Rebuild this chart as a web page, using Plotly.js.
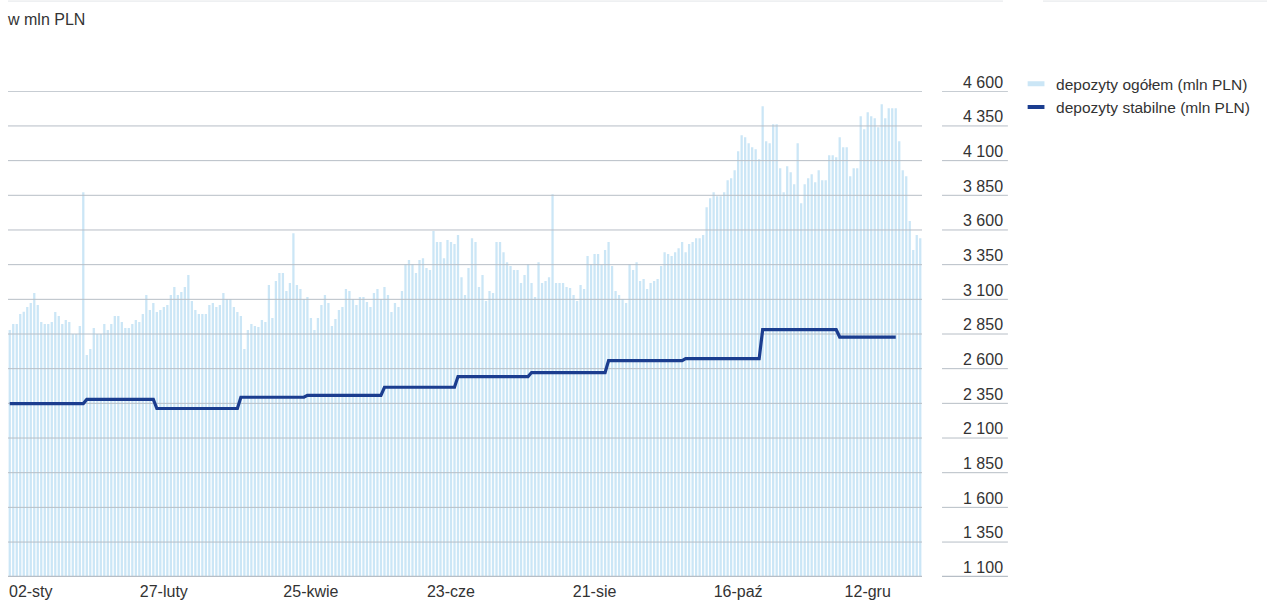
<!DOCTYPE html>
<html>
<head>
<meta charset="utf-8">
<script src="https://cdn.plot.ly/plotly-3.0.1.min.js"></script>
<style>
html,body{margin:0;padding:0;background:#fff;}
#chart{width:1267px;height:603px;}
</style>
</head>
<body>
<div id="chart"></div>
<script>
// depozyty ogółem (mln PLN) – daily values
const totalDeposits = [
2879,2922,2922,2994,3011,3044,3073,3145,3059,2936,
2922,2922,2936,3008,2980,2922,2951,2936,2850,2850,
2908,3872,2699,2742,2893,2850,2850,2922,2879,2922,
2980,2980,2936,2893,2893,2922,2951,2936,2994,3131,
3023,3073,3008,3023,3044,3059,3131,3188,3131,3152,
3188,3275,3088,3023,2994,2994,2994,3059,3073,3044,
3059,3145,3102,3102,3044,3008,2980,2742,2879,2922,
2908,2901,2951,2936,3203,2965,3232,3289,3289,3160,
3217,3577,3203,3174,3102,3116,2965,2879,2965,3059,
3131,3073,2908,2958,3023,3044,3174,3160,3102,3059,
3116,3116,3080,3044,3145,3174,3102,3188,3131,3008,
3073,3044,3160,3354,3383,3354,3289,3383,3397,3325,
3311,3592,3513,3513,3397,3527,3513,3498,3563,3260,
3131,3325,3541,3513,3188,3275,3088,3160,3145,3513,
3513,3440,3368,3340,3311,3311,3217,3275,3354,3217,
3116,3368,3217,3232,3260,3858,3217,3217,3217,3188,
3181,3131,3088,3203,3174,3412,3354,3426,3426,3347,
3455,3513,3340,3160,3131,3102,3073,3354,3311,3368,
3232,3246,3174,3217,3232,3246,3340,3440,3426,3412,
3440,3469,3513,3440,3498,3513,3541,3541,3563,3764,
3829,3872,3844,3844,3872,3959,3973,4031,4168,4283,
4268,4225,4196,4182,4110,4492,4240,4225,4362,4362,
4045,3872,4060,4016,3930,4225,3793,3930,3973,4002,
3944,4031,3959,3959,4139,4139,4124,4268,4196,4196,
3988,4045,4045,4420,4326,4448,4420,4405,4340,4506,
4405,4477,4477,4477,4240,4031,3988,3664,3455,3563,
3541
];

// depozyty stabilne (mln PLN)
const stableDeposits = [
2348,2348,2348,2348,2348,2348,2348,2348,2348,2348,2348,2348,2348,2348,2348,2348,2348,2348,2348,2348,2348,2348,
2378,2378,2378,2378,2378,2378,2378,2378,2378,2378,2378,2378,2378,2378,2378,2378,2378,2378,2378,2378,
2313,2313,2313,2313,2313,2313,2313,2313,2313,2313,2313,2313,2313,2313,2313,2313,2313,2313,2313,2313,2313,2313,2313,2313,
2394,2394,2394,2394,2394,2394,2394,2394,2394,2394,2394,2394,2394,2394,2394,2394,2394,2394,2394,
2408,2408,2408,2408,2408,2408,2408,2408,2408,2408,2408,2408,2408,2408,2408,2408,2408,2408,2408,2408,2408,2408,
2466,2466,2466,2466,2466,2466,2466,2466,2466,2466,2466,2466,2466,2466,2466,2466,2466,2466,2466,2466,2466,
2543,2543,2543,2543,2543,2543,2543,2543,2543,2543,2543,2543,2543,2543,2543,2543,2543,2543,2543,2543,2543,
2572,2572,2572,2572,2572,2572,2572,2572,2572,2572,2572,2572,2572,2572,2572,2572,2572,2572,2572,2572,2572,2572,
2658,2658,2658,2658,2658,2658,2658,2658,2658,2658,2658,2658,2658,2658,2658,2658,2658,2658,2658,2658,2658,2658,
2672,2672,2672,2672,2672,2672,2672,2672,2672,2672,2672,2672,2672,2672,2672,2672,2672,2672,2672,2672,2672,2672,
2881,2881,2881,2881,2881,2881,2881,2881,2881,2881,2881,2881,2881,2881,2881,2881,2881,2881,2881,2881,2881,2881,
2828,2828,2828,2828,2828,2828,2828,2828,2828,2828,2828,2828,2828,2828,2828,2828,2828
];

const xTickVals = [6, 44, 86, 126, 167, 208, 245];
const xTickText = ['02-sty', '27-luty', '25-kwie', '23-cze', '21-sie', '16-paź', '12-gru'];

const yTickVals = [1100, 1350, 1600, 1850, 2100, 2350, 2600, 2850, 3100, 3350, 3600, 3850, 4100, 4350, 4600];
const yTickText = ['1 100', '1 350', '1 600', '1 850', '2 100', '2 350', '2 600', '2 850', '3 100', '3 350', '3 600', '3 850', '4 100', '4 350', '4 600'];

const seriesNames = ['depozyty ogółem (mln PLN)', 'depozyty stabilne (mln PLN)'];

const barColor = '#cbe6f6';
const lineColor = '#1b3d8f';
const gridColor = '#b7bec6';
const textColor = '#333333';
const fontFamily = '"Liberation Sans", Arial, sans-serif';

const xIdx = totalDeposits.map((_, i) => i);
const xIdxLine = stableDeposits.map((_, i) => i);
const xMin = -0.5, xMax = totalDeposits.length - 0.5;

// horizontal grid drawn as a trace so it sits above the bars but below the line
const gridX = [], gridY = [];
yTickVals.slice(1).forEach(v => { gridX.push(xMin, xMax, null); gridY.push(v, v, null); });

const traces = [
  {
    type: 'bar', x: xIdx, y: totalDeposits, marker: {color: barColor, line: {width: 0}},
    name: seriesNames[0], showlegend: false, hoverinfo: 'y'
  },
  {
    type: 'scatter', mode: 'lines', x: gridX, y: gridY, connectgaps: false,
    line: {color: gridColor, width: 1}, showlegend: false, hoverinfo: 'skip', name: 'grid'
  },
  {
    type: 'scatter', mode: 'lines', x: xIdxLine, y: stableDeposits,
    line: {color: lineColor, width: 3.2}, name: seriesNames[1], showlegend: false, hoverinfo: 'y'
  },
  {
    type: 'scatter', mode: 'markers', x: [null], y: [null], name: seriesNames[0],
    marker: {symbol: 'line-ew', size: 12, color: barColor, line: {color: barColor, width: 5}}
  },
  {
    type: 'scatter', mode: 'markers', x: [null], y: [null], name: seriesNames[1],
    marker: {symbol: 'line-ew', size: 12, color: lineColor, line: {color: lineColor, width: 4}}
  }
];

const shapes = [];
// base line of the plot (1 100)
shapes.push({type: 'line', xref: 'paper', yref: 'y', x0: 0, x1: 1, y0: yTickVals[0], y1: yTickVals[0],
  line: {color: gridColor, width: 2}, layer: 'above'});
// short rules under the value labels on the right
yTickVals.forEach((v, k) => {
  shapes.push({type: 'line', xref: 'paper', yref: 'y', x0: 1.0219, x1: 1.094, y0: v, y1: v,
    line: {color: gridColor, width: k === 0 ? 2 : 1}, layer: 'above'});
});
// thin rules along the top edge of the figure
shapes.push({type: 'line', xref: 'paper', yref: 'paper', x0: 0, x1: 1.0886, y0: 1.185, y1: 1.185,
  line: {color: '#e2e5e8', width: 1}});
shapes.push({type: 'line', xref: 'paper', yref: 'paper', x0: 1.1324, x1: 1.3775, y0: 1.185, y1: 1.185,
  line: {color: '#e2e5e8', width: 1}});

const layout = {
  width: 1267, height: 603,
  margin: {l: 8, r: 345, t: 91, b: 26, pad: 0},
  paper_bgcolor: '#ffffff', plot_bgcolor: '#ffffff',
  font: {family: fontFamily, size: 15, color: textColor},
  title: {text: 'w mln PLN', xref: 'container', yref: 'container', x: 8 / 1267, xanchor: 'left',
    y: 1 - 19 / 603, yanchor: 'middle', font: {family: fontFamily, size: 16, color: textColor}},
  bargap: 0.35,
  showlegend: true,
  legend: {x: 1.1029, xanchor: 'left', y: 1.049, yanchor: 'top', bgcolor: 'rgba(0,0,0,0)',
    font: {family: fontFamily, size: 15.5, color: textColor}, traceorder: 'normal'},
  xaxis: {
    range: [xMin, xMax], showgrid: false, zeroline: false, showline: false,
    ticks: '', tickmode: 'array', tickvals: xTickVals, ticktext: xTickText, ticklabelstandoff: 3,
    tickfont: {family: fontFamily, size: 16, color: textColor}, fixedrange: true
  },
  yaxis: {
    range: [1098, 4602], side: 'right', showgrid: false, zeroline: false, showline: false,
    ticks: '', tickmode: 'array', tickvals: yTickVals, ticktext: yTickText,
    ticklabelposition: 'outside top', ticklabelstandoff: 40, ticklabelshift: 2,
    tickfont: {family: fontFamily, size: 16, color: textColor}, fixedrange: true
  },
  shapes: shapes
};

Plotly.newPlot('chart', traces, layout, {displayModeBar: false, staticPlot: true});
</script>
</body>
</html>
